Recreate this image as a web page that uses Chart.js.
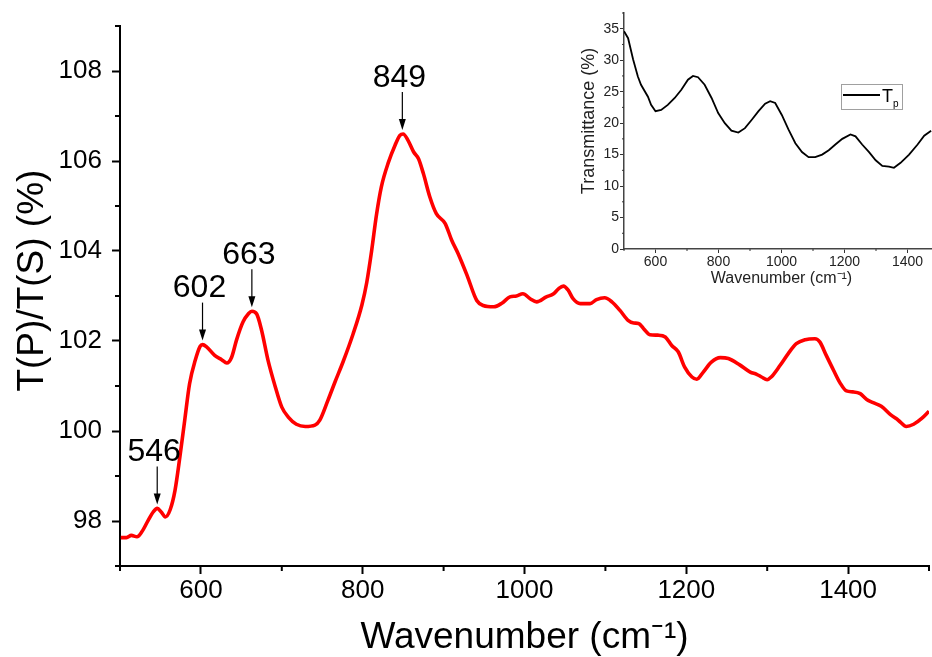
<!DOCTYPE html>
<html>
<head>
<meta charset="utf-8">
<script src="https://cdn.jsdelivr.net/npm/chart.js@4.4.1/dist/chart.umd.min.js"></script>
<style>
html, body { margin: 0; padding: 0; background: #fff; overflow: hidden; }
#wrap { position: relative; width: 932px; height: 657px; overflow: hidden; }
#main { position: absolute; left: 0; top: 0; }
#inset { position: absolute; left: 570px; top: 0; }
</style>
</head>
<body>
<div id="wrap">
  <canvas id="main" width="932" height="657"></canvas>
  <canvas id="inset" width="370" height="300"></canvas>
</div>
<script>
// Espectro principal: T(P)/T(S)
const wavenumber = [501,508,514,521,527,535,541,546,551,556,562,568,574,580,586,593,599,602,607,617,626,632,638,644,652,659,663,669,675,683,692,700,708,718,729,741,747,757,766,776,788,799,805,811,817,823,832,840,846,850,856,863,869,875,883,891,902,910,918,929,941,949,962,972,982,990,998,1007,1015,1027,1036,1042,1048,1054,1060,1069,1081,1089,1099,1108,1118,1128,1135,1141,1147,1155,1165,1174,1182,1190,1198,1207,1213,1221,1231,1242,1252,1266,1279,1287,1293,1300,1305,1316,1326,1336,1347,1359,1365,1373,1382,1390,1398,1406,1415,1423,1431,1441,1452,1462,1472,1481,1491,1500];
const ratio = [97.63,97.63,97.68,97.65,97.76,98.02,98.2,98.28,98.2,98.09,98.25,98.68,99.42,100.24,101.05,101.57,101.88,101.92,101.87,101.68,101.58,101.51,101.64,102.02,102.42,102.61,102.66,102.6,102.24,101.57,100.98,100.53,100.31,100.15,100.1,100.13,100.24,100.68,101.1,101.55,102.15,102.8,103.3,104.0,104.8,105.42,105.98,106.35,106.57,106.6,106.46,106.2,106.05,105.72,105.2,104.83,104.61,104.24,103.94,103.46,102.9,102.79,102.76,102.84,102.98,103.0,103.05,102.94,102.87,102.98,103.05,103.16,103.22,103.13,102.94,102.83,102.83,102.92,102.96,102.87,102.68,102.46,102.4,102.39,102.28,102.14,102.13,102.09,101.9,101.76,101.42,101.2,101.15,101.31,101.53,101.63,101.61,101.47,101.31,101.26,101.2,101.14,101.2,101.46,101.72,101.94,102.03,102.05,101.98,101.68,101.35,101.07,100.89,100.87,100.83,100.7,100.63,100.55,100.37,100.24,100.1,100.15,100.28,100.44];

// Picos marcados com seta
const peakPositions = [546, 602, 663, 849];
const peakValues = [98.28, 101.92, 102.66, 106.6];
const peakLabels = ['546', '602', '663', '849'];

// Inset: transmitância Tp
const insetWavenumber = [500,513,529,544,554,576,586,600,618,639,661,682,703,719,735,756,778,799,820,841,863,884,905,927,948,964,980,1001,1022,1044,1065,1086,1107,1129,1150,1171,1193,1219,1235,1256,1278,1299,1320,1341,1357,1378,1405,1432,1453,1475];
const insetTransmittance = [34.6,33.5,30.1,27.4,26.1,24.2,22.9,21.9,22.1,22.9,24.0,25.3,26.9,27.5,27.3,26.1,24.0,21.6,20.0,18.8,18.5,19.2,20.5,21.9,23.1,23.5,23.2,21.3,19.0,16.8,15.4,14.6,14.6,15.0,15.7,16.6,17.5,18.2,17.9,16.6,15.4,14.1,13.2,13.1,12.9,13.7,15.0,16.6,18.0,18.8];

const FONT = "'Liberation Sans', Arial, sans-serif";

// ticks menores (Chart.js não tem)
const minorTicks = {
    id: 'minorTicks',
    afterDraw(chart, args, opts) {
        const ctx = chart.ctx;
        const x = chart.scales.x, y = chart.scales.y;
        ctx.save();
        ctx.strokeStyle = opts.color;
        ctx.lineWidth = opts.width;
        x.ticks.forEach(t => {
            if (Math.abs(t.value % opts.xMajor) < 1e-6) return;
            const px = x.getPixelForValue(t.value);
            ctx.beginPath();
            ctx.moveTo(px, x.top);
            ctx.lineTo(px, x.top + opts.len);
            ctx.stroke();
        });
        y.ticks.forEach(t => {
            if (Math.abs(t.value % opts.yMajor) < 1e-6) return;
            const py = y.getPixelForValue(t.value);
            ctx.beginPath();
            ctx.moveTo(y.right, py);
            ctx.lineTo(y.right - opts.len, py);
            ctx.stroke();
        });
        ctx.restore();
    }
};

const peakArrows = {
    id: 'peakArrows',
    afterDatasetsDraw(chart) {
        const ctx = chart.ctx;
        const x = chart.scales.x, y = chart.scales.y;
        ctx.save();
        ctx.fillStyle = '#000';
        ctx.strokeStyle = '#000';
        ctx.lineWidth = 1.2;
        ctx.font = '32px ' + FONT;
        ctx.textAlign = 'center';
        ctx.textBaseline = 'middle';
        peakPositions.forEach((p, i) => {
            const px = x.getPixelForValue(p);
            const py = y.getPixelForValue(peakValues[i]);
            const tip = py - 4;
            ctx.beginPath();
            ctx.moveTo(px, tip - 38);
            ctx.lineTo(px, tip - 9);
            ctx.stroke();
            ctx.beginPath();
            ctx.moveTo(px, tip);
            ctx.lineTo(px - 3.5, tip - 11);
            ctx.lineTo(px + 3.5, tip - 11);
            ctx.closePath();
            ctx.fill();
            ctx.fillText(peakLabels[i], px - 3, py - 56);
        });
        ctx.restore();
    }
};

new Chart(document.getElementById('main'), {
    type: 'line',
    data: {
        datasets: [{
            data: wavenumber.map((w, i) => ({ x: w, y: ratio[i] })),
            borderColor: '#ff0000',
            borderWidth: 3.6,
            pointRadius: 0,
            cubicInterpolationMode: 'monotone',
            fill: false
        }]
    },
    options: {
        responsive: false,
        animation: false,
        layout: { padding: { top: 26, right: 3, left: 0, bottom: 0 } },
        plugins: {
            legend: { display: false },
            tooltip: { enabled: false },
            minorTicks: { color: '#000', width: 2, len: 5, xMajor: 200, yMajor: 2 }
        },
        scales: {
            x: {
                type: 'linear',
                min: 500,
                max: 1500,
                ticks: {
                    stepSize: 100,
                    autoSkip: false,
                    maxRotation: 0,
                    padding: 1,
                    color: '#000',
                    font: { family: FONT, size: 26 },
                    callback: v => v % 200 === 0 ? v : ''
                },
                grid: {
                    drawOnChartArea: false,
                    tickLength: 8,
                    tickWidth: 2,
                    tickColor: c => c.tick && c.tick.value % 200 === 0 ? '#000' : 'rgba(0,0,0,0)'
                },
                border: { display: true, color: '#000', width: 2 },
                title: {
                    display: true,
                    text: 'Wavenumber (cm⁻¹)',
                    color: '#000',
                    font: { family: FONT, size: 37, lineHeight: 1 },
                    padding: { top: 0, bottom: 1 }
                },
                afterFit: s => { s.height = 91; }
            },
            y: {
                min: 97,
                max: 109,
                ticks: {
                    stepSize: 1,
                    autoSkip: false,
                    padding: 10,
                    color: '#000',
                    font: { family: FONT, size: 26 },
                    callback: v => v % 2 === 0 ? v : ''
                },
                grid: {
                    drawOnChartArea: false,
                    tickLength: 8,
                    tickWidth: 2,
                    tickColor: c => c.tick && c.tick.value % 2 === 0 ? '#000' : 'rgba(0,0,0,0)'
                },
                border: { display: true, color: '#000', width: 2 },
                title: {
                    display: true,
                    text: '   T(P)/T(S) (%)',
                    color: '#000',
                    font: { family: FONT, size: 37, lineHeight: 1 },
                    padding: { top: 14, bottom: 0 }
                },
                afterFit: s => { s.width = 120; }
            }
        }
    },
    plugins: [minorTicks, peakArrows]
});

// legenda do inset com subscrito
const insetLegend = {
    id: 'insetLegend',
    afterDraw(chart) {
        const ctx = chart.ctx;
        ctx.save();
        ctx.strokeStyle = '#a0a0a0';
        ctx.lineWidth = 1;
        ctx.strokeRect(271.5, 84.5, 61, 25);
        ctx.strokeStyle = '#000';
        ctx.lineWidth = 2;
        ctx.beginPath();
        ctx.moveTo(273, 95);
        ctx.lineTo(310, 95);
        ctx.stroke();
        ctx.fillStyle = '#000';
        ctx.textBaseline = 'alphabetic';
        ctx.font = '18px ' + FONT;
        ctx.fillText('T', 312, 102);
        ctx.font = '10px ' + FONT;
        ctx.fillText('p', 323, 107);
        ctx.restore();
    }
};

new Chart(document.getElementById('inset'), {
    type: 'line',
    data: {
        datasets: [{
            data: insetWavenumber.map((w, i) => ({ x: w, y: insetTransmittance[i] })),
            borderColor: '#000',
            borderWidth: 1.8,
            pointRadius: 0,
            tension: 0,
            fill: false
        }]
    },
    options: {
        responsive: false,
        animation: false,
        layout: { padding: { top: 13, right: 0, left: 0, bottom: 0 } },
        plugins: {
            legend: { display: false },
            tooltip: { enabled: false },
            minorTicks: { color: '#333', width: 1, len: 2, xMajor: 200, yMajor: 5 }
        },
        scales: {
            x: {
                type: 'linear',
                min: 500,
                max: 1500,
                ticks: {
                    stepSize: 100,
                    autoSkip: false,
                    maxRotation: 0,
                    padding: 1,
                    color: '#222',
                    font: { family: FONT, size: 14 },
                    callback: v => v % 200 === 0 ? v : ''
                },
                grid: {
                    drawOnChartArea: false,
                    tickLength: 4,
                    tickWidth: 1,
                    tickColor: c => c.tick && c.tick.value % 200 === 0 ? '#333' : 'rgba(0,0,0,0)'
                },
                border: { display: true, color: '#444', width: 1.5 },
                title: {
                    display: true,
                    text: 'Wavenumber (cm⁻¹)',
                    color: '#222',
                    font: { family: FONT, size: 16, lineHeight: 1 },
                    padding: { top: 0, bottom: 13 }
                },
                afterFit: s => { s.height = 51; }
            },
            y: {
                min: 0,
                max: 37.5,
                ticks: {
                    stepSize: 2.5,
                    autoSkip: false,
                    padding: 1,
                    color: '#222',
                    font: { family: FONT, size: 14 },
                    callback: v => v % 5 === 0 ? v : ''
                },
                grid: {
                    drawOnChartArea: false,
                    tickLength: 4,
                    tickWidth: 1,
                    tickColor: c => c.tick && c.tick.value % 5 === 0 ? '#333' : 'rgba(0,0,0,0)'
                },
                border: { display: true, color: '#444', width: 1.5 },
                title: {
                    display: true,
                    text: '    Transmittance (%)',
                    color: '#222',
                    font: { family: FONT, size: 18, lineHeight: 1 },
                    padding: { top: 10, bottom: 0 }
                },
                afterFit: s => { s.width = 54; }
            }
        }
    },
    plugins: [minorTicks, insetLegend]
});
</script>
</body>
</html>
